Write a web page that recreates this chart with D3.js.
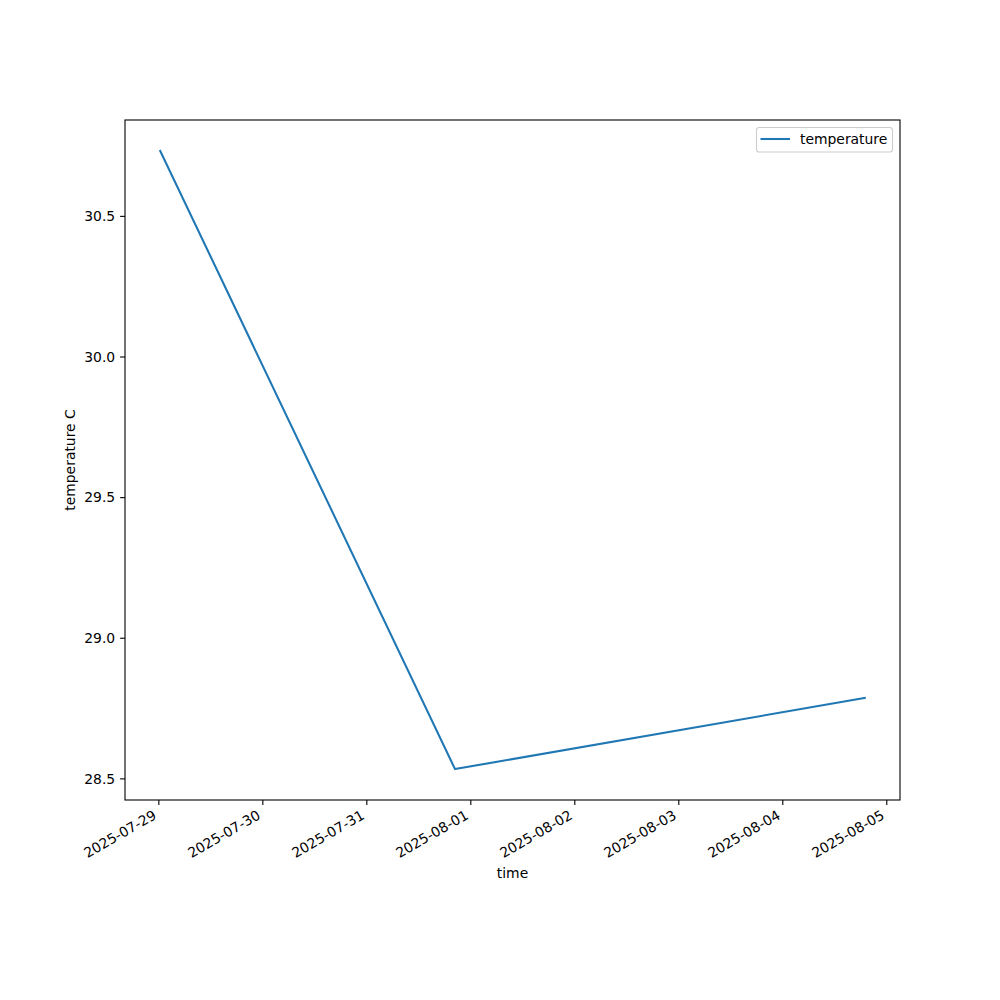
<!DOCTYPE html>
<html><head><meta charset="utf-8">
<script src="https://cdn.jsdelivr.net/npm/d3@7"></script>
<style>body{margin:0;background:#fff}svg{display:block}text{font-family:"DejaVu Sans",sans-serif}</style>
</head><body>
<script>
const times = ["2025-07-29T00:26:00Z","2025-07-31T20:28:00Z","2025-08-04T19:02:00Z"];
const temperature = [30.731, 28.533, 28.786];
const yTicks = [28.5, 29.0, 29.5, 30.0, 30.5];
const seriesName = "temperature";
const xLabel = "time", yLabel = "temperature C";

const W=1000,H=1000, L=125, R=900, T=120, B=800;
const fs = 13.9;
const svg = d3.select("body").append("svg").attr("width",W).attr("height",H);
const data = times.map((t,i)=>({t:new Date(t), v:temperature[i]}));
const [t0,t1] = d3.extent(data,d=>d.t);
const dt = (t1-t0)*0.05;
const x = d3.scaleUtc().domain([new Date(+t0-dt), new Date(+t1+dt)]).range([L,R]);
const [v0,v1] = d3.extent(data,d=>d.v);
const dv=(v1-v0)*0.05;
const y = d3.scaleLinear().domain([v0-dv, v1+dv]).range([B,T]);

// line
svg.append("path").datum(data)
  .attr("d", d3.line().x(d=>x(d.t)).y(d=>y(d.v)))
  .attr("fill","none").attr("stroke","#1f77b4").attr("stroke-width",2.08)
  .attr("stroke-linejoin","round").attr("stroke-linecap","square");

// x axis
const xt = d3.utcDay.range(d3.utcDay.ceil(x.domain()[0]), x.domain()[1]);
const xa = svg.append("g").attr("transform",`translate(0,${B})`)
  .call(d3.axisBottom(x).tickValues(xt).tickFormat(d3.utcFormat("%Y-%m-%d")).tickSize(4.9).tickPadding(0));
xa.select(".domain").remove();
xa.selectAll(".tick line").attr("stroke","#000").attr("stroke-width",1.1);
xa.selectAll(".tick text").attr("font-size",fs).attr("fill","#000")
  .attr("text-anchor","end").attr("dy",null).attr("y",null)
  .attr("transform","translate(-1.5,18) rotate(-30)");

// y axis
const ya = svg.append("g").attr("transform",`translate(${L},0)`)
  .call(d3.axisLeft(y).tickValues(yTicks).tickFormat(d3.format(".1f")).tickSize(4.9).tickPadding(4.9));
ya.select(".domain").remove();
ya.selectAll(".tick line").attr("stroke","#000").attr("stroke-width",1.1);
ya.selectAll(".tick text").attr("font-size",fs).attr("fill","#000").attr("dy","0.35em");

// frame
svg.append("rect").attr("x",L).attr("y",T).attr("width",R-L).attr("height",B-T)
  .attr("fill","none").attr("stroke","#000").attr("stroke-width",1.1);

// labels
svg.append("text").attr("x",(L+R)/2).attr("y",878).attr("text-anchor","middle").attr("font-size",fs).text(xLabel);
svg.append("text").attr("transform",`translate(75,${(T+B)/2}) rotate(-90)`).attr("text-anchor","middle").attr("font-size",fs).text(yLabel);

// legend
const lg = svg.append("g");
lg.append("rect").attr("x",756.5).attr("y",127.5).attr("width",136).attr("height",24.5).attr("rx",2.8)
  .attr("fill","#fff").attr("fill-opacity",0.8).attr("stroke","#ccc").attr("stroke-width",1.1);
lg.append("line").attr("x1",760.5).attr("x2",790).attr("y1",139).attr("y2",139)
  .attr("stroke","#1f77b4").attr("stroke-width",2.08);
lg.append("text").attr("x",800).attr("y",143.5).attr("font-size",fs).text(seriesName);
</script>
</body></html>
